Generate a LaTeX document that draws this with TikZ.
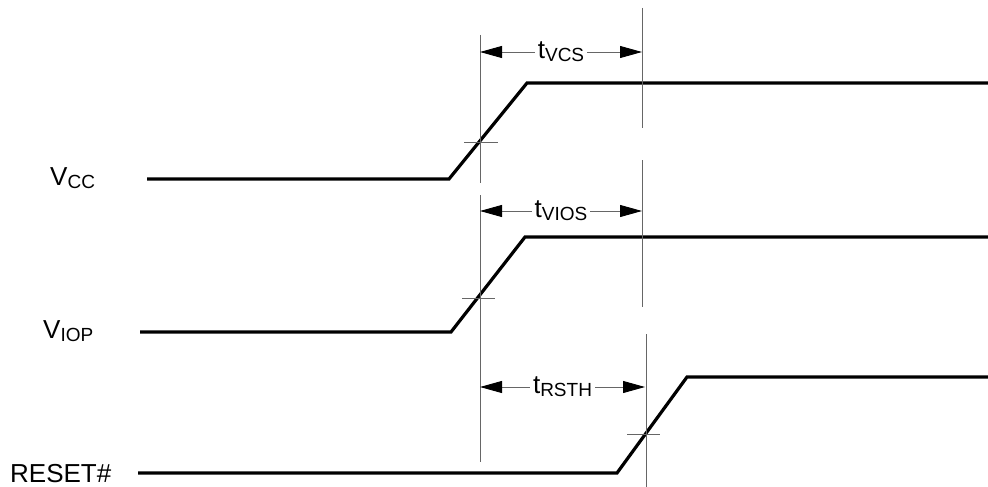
\documentclass[tikz,border=0pt]{standalone}
\usepackage{fontspec}
\setmainfont{Liberation Sans}
\usetikzlibrary{arrows.meta}

\newcommand{\signame}[2]{#1\raisebox{-3pt}{\fontsize{19}{19}\selectfont #2}}

\tikzset{
	wave/.style={line width=3.2pt, line join=miter},
	guide/.style={gray!80!black, line width=0.9pt},
	span/.style={guide, {Triangle[length=22pt,width=12pt,color=black]}-{Triangle[length=22pt,width=12pt,color=black]}},
	spanlabel/.style={fill=white, text=black, inner xsep=3pt, inner ysep=1pt, font=\fontsize{26}{26}\selectfont},
	siglabel/.style={anchor=base west, inner sep=0pt, font=\fontsize{26}{26}\selectfont}
}

\begin{document}
\begin{tikzpicture}[x=1pt, y=-1pt]
	\useasboundingbox[fill=white] (0,0) rectangle (988,487);

	%signal names
	\node[siglabel] (vcc) at (50,185) {\signame{V}{CC}};
	\node[siglabel] (viop) at (43,338) {\signame{V}{IOP}};
	\node[siglabel] (rst) at (10,482) {RESET\#};

	%waveforms
	\draw[wave] (147,179) -- (449,179) -- (527,83) -- (988,83);
	\draw[wave] (140,332) -- (451,332) -- (525,237) -- (988,237);
	\draw[wave] (138,473) -- (617,473) -- (687,377) -- (988,377);

	%reference lines
	\coordinate (s1) at (480,52);
	\coordinate (s2) at (480,211);
	\coordinate (s3) at (480,387);
	\coordinate (e1) at (642,52);
	\coordinate (e2) at (642,211);
	\coordinate (e3) at (645,387);

	\draw[guide] (480,35) -- (480,183);
	\draw[guide] (480,195) -- (480,462);
	\draw[guide] (642,8) -- (642,128);
	\draw[guide] (642,160) -- (642,307);
	\draw[guide] (646,334) -- (646,487);

	%crossing marks
	\draw[guide] (464,142) -- (498,142);
	\draw[guide] (462,298) -- (495,298);
	\draw[guide] (627,434) -- (660,434);

	%timings
	\draw[span] (s1) -- (e1) node[midway, spanlabel] (tvcs) {\signame{t}{VCS}};
	\draw[span] (s2) -- (e2) node[midway, spanlabel] (tvios) {\signame{t}{VIOS}};
	\draw[span] (s3) -- (e3) node[midway, spanlabel] (trsth) {\signame{t}{RSTH}};
\end{tikzpicture}
\end{document}
